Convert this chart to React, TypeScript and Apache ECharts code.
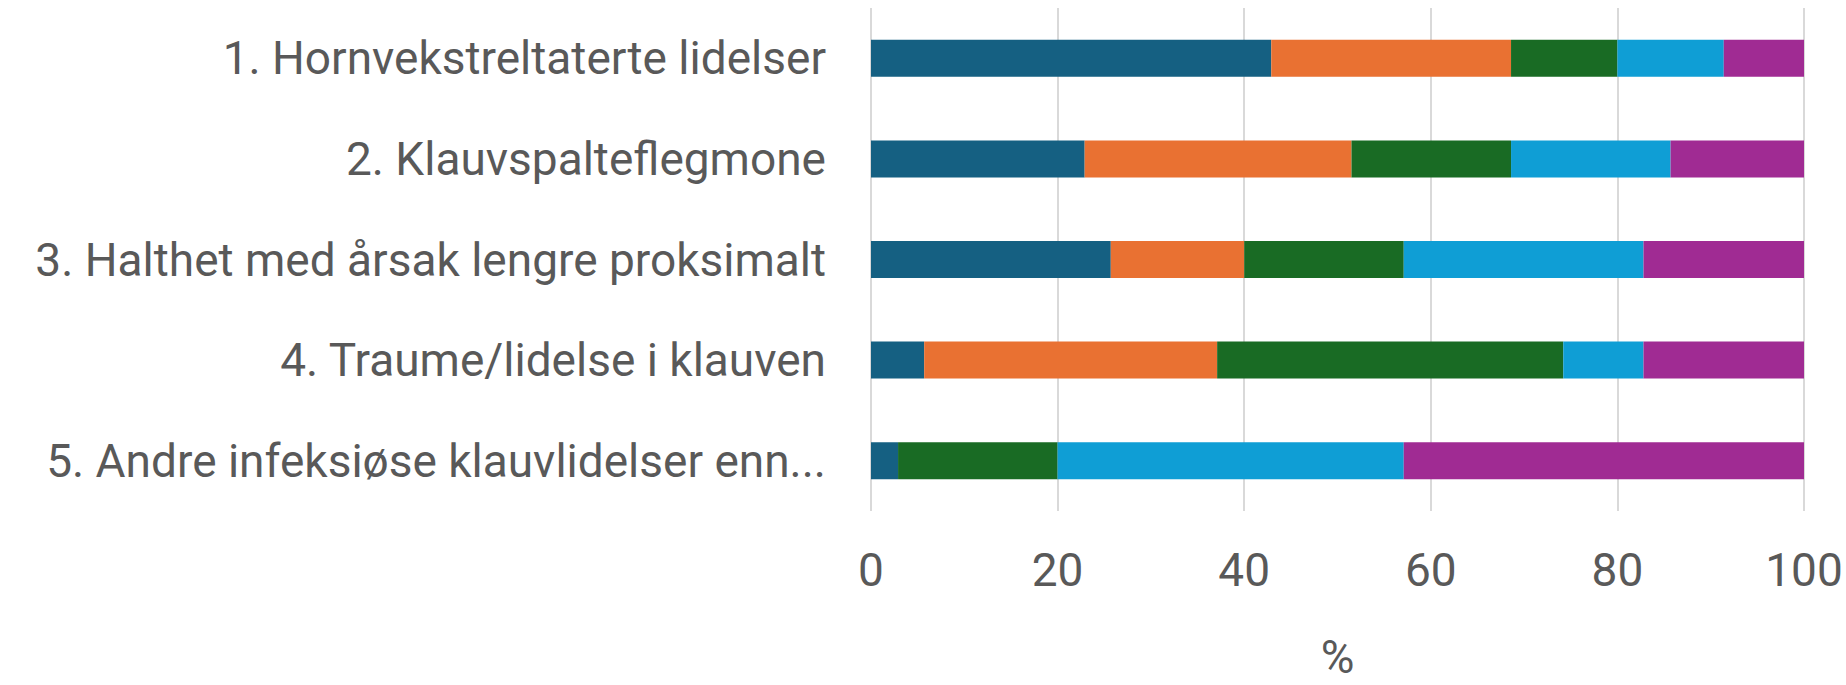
import React, { useEffect, useRef } from "react";
import * as echarts from "echarts";

const categories = [
  "1. Hornvekstreltaterte lidelser",
  "2. Klauvspalteflegmone",
  "3. Halthet med årsak lengre proksimalt",
  "4. Traume/lidelse i klauven",
  "5. Andre infeksiøse klauvlidelser enn...",
];

const seriesNames = ["Kategori 1", "Kategori 2", "Kategori 3", "Kategori 4", "Kategori 5"];
const seriesColors = ["#156082", "#E97132", "#196B24", "#0F9ED5", "#A02B93"];

const s1 = [42.9, 22.9, 25.7, 5.7, 2.9];
const s2 = [25.7, 28.6, 14.3, 31.4, 0];
const s3 = [11.4, 17.1, 17.1, 37.1, 17.1];
const s4 = [11.4, 17.1, 25.7, 8.6, 37.1];
const s5 = [8.6, 14.3, 17.2, 17.2, 42.9];

const xTicks = [0, 20, 40, 60, 80, 100];
const axisName = "%";

const FONT = "Roboto, 'Liberation Sans', sans-serif";
const TEXT_COLOR = "#595959";
const FS = 46;

export default function App() {
  const ref = useRef<HTMLDivElement>(null);

  useEffect(() => {
    document.body.style.margin = "0";
    if (!ref.current) return;
    const chart = echarts.init(ref.current, null, { renderer: "svg" });
    const all = [s1, s2, s3, s4, s5];
    chart.setOption({
      animation: false,
      backgroundColor: "#ffffff",
      grid: { left: 871, right: 42, top: 8, bottom: 160, containLabel: false },
      xAxis: {
        type: "value",
        min: xTicks[0],
        max: xTicks[xTicks.length - 1],
        interval: 20,
        name: axisName,
        nameLocation: "middle",
        nameGap: 123,
        nameTextStyle: { fontSize: FS, color: TEXT_COLOR, fontFamily: FONT },
        axisLine: { show: false },
        axisTick: { show: false },
        axisLabel: { fontSize: FS, color: TEXT_COLOR, fontFamily: FONT, margin: 36 },
        splitLine: { show: true, lineStyle: { color: "#D9D9D9", width: 2 } },
      },
      yAxis: {
        type: "category",
        inverse: true,
        data: categories,
        axisLine: { show: false },
        axisTick: { show: false },
        axisLabel: { fontSize: FS, color: TEXT_COLOR, fontFamily: FONT, margin: 45 },
        splitLine: { show: false },
      },
      series: all.map((d, i) => ({
        name: seriesNames[i],
        type: "bar",
        stack: "total",
        data: d,
        barWidth: 37,
        itemStyle: { color: seriesColors[i] },
      })),
    });
    return () => chart.dispose();
  }, []);

  return <div ref={ref} style={{ width: 1846, height: 685 }} />;
}
